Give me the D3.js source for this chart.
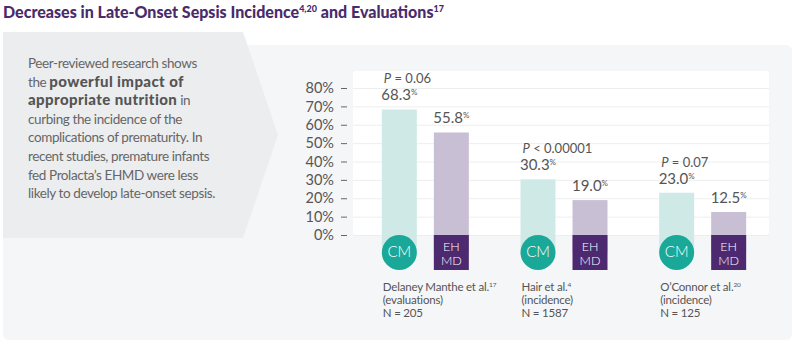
<!DOCTYPE html>
<head>
  <meta charset="utf-8">
  <script src="https://cdn.jsdelivr.net/npm/d3@7"></script>
  <style>
    body { margin: 0; background: #fff; font-family: Lato, "Open Sans", Arial, sans-serif; }
    svg { display: block; }
  </style>
</head>
<body>
  <div id="chart"></div>
  <script>

  // chart values
  var studies = ["Delaney Manthe et al.", "Hair et al.", "O\u2019Connor et al."]
    , refs = ["17", "4", "20"]
    , measures = ["(evaluations)", "(incidence)", "(incidence)"]
    , sampleSizes = ["N = 205", "N = 1587", "N = 125"]
    , series = ["CM", "EHMD"]
    , cmValues = [68.3, 30.3, 23.0]
    , ehmdValues = [55.8, 19.0, 12.5]
    , pValues = ["= 0.06", "< 0.00001", "= 0.07"]
    , yTicks = [0, 10, 20, 30, 40, 50, 60, 70, 80]
    , bodyLines = [
        [["Peer-reviewed research shows", false]],
        [["the ", false], ["powerful impact of", true]],
        [["appropriate nutrition", true], [" in", false]],
        [["curbing the incidence of the", false]],
        [["complications of prematurity. In", false]],
        [["recent studies, premature infants", false]],
        [["fed Prolacta\u2019s EHMD were less", false]],
        [["likely to develop late-onset sepsis.", false]]
      ]

  var width = 800, height = 351
  var colors = {CM: "#cfeae6", EHMD: "#c9bfd5"}
  var iconColors = {CM: "#1aa898", EHMD: "#4d2a70"}

  var svg = d3.select("#chart").append("svg")
      .attr("width", width)
      .attr("height", height)

  // title
  var title = svg.append("text")
      .attr("x", 3)
      .attr("y", 18)
      .style("font-size", "16px")
      .style("font-weight", 900)
      .style("fill", "#4a2b6c")
  title.append("tspan").text("Decreases in Late-Onset Sepsis Incidence")
  title.append("tspan").attr("dy", -6).style("font-size", "9px").text("4,20")
  title.append("tspan").attr("dy", 6).text(" and Evaluations")
  title.append("tspan").attr("dy", -6).style("font-size", "9px").text("17")

  // panels
  svg.append("rect")
      .attr("x", 3).attr("y", 45)
      .attr("width", 789).attr("height", 295)
      .attr("rx", 6)
      .style("fill", "#f5f6f8")

  svg.append("path")
      .attr("d", "M3,32 L243,32 L278,135 L243,238 L3,238 Z")
      .style("fill", "#ecedef")

  var body = svg.append("text")
      .style("font-size", "13.5px")
      .style("letter-spacing", "-0.4px")
      .style("fill", "#666")
  bodyLines.forEach(function(line, i) {
    line.forEach(function(part, j) {
      var t = body.append("tspan")
          .text(part[0])
      if (part[1]) {
        t.style("font-weight", 900)
          .style("font-size", "15px")
          .style("letter-spacing", "0.4px")
          .style("fill", "#555")
      }
      if (j == 0) t.attr("x", 28).attr("y", 68 + i * 18.6)
    })
  })

  // plot
  var y = d3.scaleLinear()
      .domain([0, 80])
      .range([235, 88])

  var x = d3.scaleBand()
      .domain(studies)
      .range([356, 772])

  var xInner = d3.scaleBand()
      .domain(series)
      .range([-43.5, 43.5])
      .paddingInner(0.327)

  svg.append("rect")
      .attr("x", 353).attr("y", 71)
      .attr("width", 416).attr("height", y(0) - 71)
      .attr("rx", 3)
      .style("fill", "#fff")

  svg.append("g").selectAll("line")
      .data(yTicks)
    .enter().append("line")
      .attr("x1", 353).attr("x2", 769)
      .attr("y1", function(d) { return y(d) + 0.5 })
      .attr("y2", function(d) { return y(d) + 0.5 })
      .style("stroke", "#eeeeee")

  var yAxis = svg.append("g")
      .attr("transform", "translate(348,0)")
      .call(d3.axisLeft(y).tickValues(yTicks).tickSize(8).tickPadding(6)
        .tickFormat(function(d) { return d + "%" }))
  yAxis.select(".domain").remove()
  yAxis.selectAll("line").attr("x2", -7).attr("x1", -1).style("stroke", "#666")
  yAxis.selectAll("text")
      .style("font-family", "Lato, sans-serif")
      .style("font-size", "14.5px")
      .style("fill", "#555")

  var data = studies.map(function(s, i) {
    return {study: s, ref: refs[i], measure: measures[i], n: sampleSizes[i], p: pValues[i],
            values: [{key: "CM", value: cmValues[i]}, {key: "EHMD", value: ehmdValues[i]}]}
  })

  var groups = svg.selectAll(".study")
      .data(data)
    .enter().append("g")
      .attr("class", "study")
      .attr("transform", function(d) { return "translate(" + (x(d.study) + x.bandwidth() / 2) + ",0)" })

  var iconTop = y(0), iconSize = xInner.bandwidth()

  groups.selectAll(".bar")
      .data(function(d) { return d.values })
    .enter().append("rect")
      .attr("class", "bar")
      .attr("x", function(d) { return xInner(d.key) })
      .attr("y", function(d) { return y(d.value) })
      .attr("width", xInner.bandwidth())
      .attr("height", function(d) { return iconTop + iconSize / 2 - y(d.value) })
      .style("fill", function(d) { return colors[d.key] })

  // value labels
  var vl = groups.selectAll(".val")
      .data(function(d) { return d.values })
    .enter().append("text")
      .attr("class", "val")
      .attr("x", function(d) { return xInner(d.key) + xInner.bandwidth() / 2 })
      .attr("y", function(d) { return y(d.value) - 9 })
      .style("text-anchor", "middle")
      .style("font-size", "15px")
      .style("fill", "#555")
  vl.append("tspan").text(function(d) { return d.value.toFixed(1) })
  vl.append("tspan").attr("dy", -5).style("font-size", "8px").text("%")

  // p values
  var pl = groups.append("text")
      .attr("x", xInner("CM") + 2)
      .attr("y", function(d) { return y(d.values[0].value) - 26 })
      .style("font-size", "13px")
      .style("fill", "#555")
  pl.append("tspan").style("font-style", "italic").text("P")
  pl.append("tspan").text(function(d) { return " " + d.p })

  // icons
  groups.append("circle")
      .attr("cx", xInner("CM") + iconSize / 2)
      .attr("cy", iconTop + iconSize / 2)
      .attr("r", iconSize / 2)
      .style("fill", iconColors.CM)
  groups.append("text")
      .attr("x", xInner("CM") + iconSize / 2)
      .attr("y", iconTop + iconSize / 2 + 5)
      .style("text-anchor", "middle")
      .style("font-size", "15px")
      .style("font-weight", 300)
      .style("fill", "#fff")
      .text("CM")

  groups.append("rect")
      .attr("x", xInner("EHMD"))
      .attr("y", iconTop)
      .attr("width", iconSize).attr("height", iconSize)
      .style("fill", iconColors.EHMD)
  var ehText = groups.append("text")
      .style("text-anchor", "middle")
      .style("font-size", "12.5px")
      .style("font-weight", 300)
      .style("fill", "#fff")
  ehText.append("tspan")
      .attr("x", xInner("EHMD") + iconSize / 2).attr("y", iconTop + 15.5).text("EH")
  ehText.append("tspan")
      .attr("x", xInner("EHMD") + iconSize / 2).attr("y", iconTop + 29.5).text("MD")

  // study labels
  var sl = groups.append("text")
      .style("font-size", "11.5px")
      .style("letter-spacing", "-0.2px")
      .style("fill", "#555")
  sl.append("tspan").attr("x", xInner("CM") + 1).attr("y", 291)
      .text(function(d) { return d.study })
  sl.append("tspan").attr("dy", -4).style("font-size", "6.5px").text(function(d) { return d.ref })
  sl.append("tspan").attr("x", xInner("CM") + 1).attr("y", 304).text(function(d) { return d.measure })
  sl.append("tspan").attr("x", xInner("CM") + 1).attr("y", 317).text(function(d) { return d.n })

  </script>
</body>
